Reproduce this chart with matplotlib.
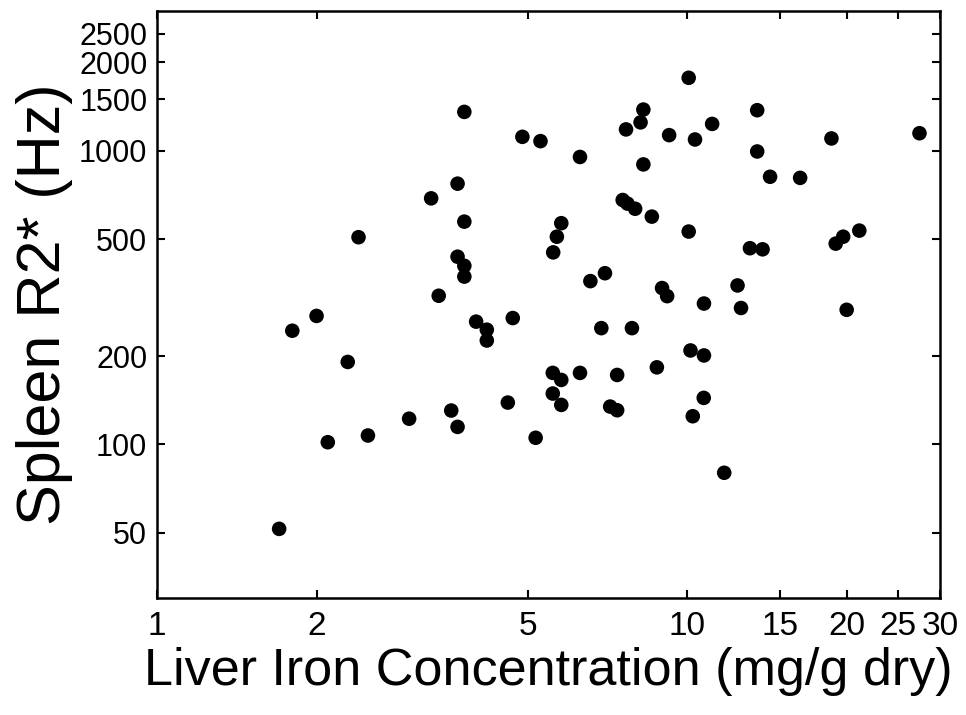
import matplotlib
matplotlib.use("Agg")
import matplotlib.pyplot as plt
from matplotlib.ticker import FixedLocator, FixedFormatter, NullLocator

plt.rcParams['font.family'] = ['Liberation Sans', 'DejaVu Sans']

# liver iron concentration (mg/g dry)
liver_iron = [
    1.70, 1.80, 2.00, 2.10, 2.29, 2.40, 2.50, 2.99, 3.29, 3.40,
    3.59, 3.69, 3.80, 3.80, 3.69, 3.80, 3.80, 3.69, 4.00, 4.19,
    4.19, 4.59, 4.69, 4.89, 5.29, 5.18, 5.59, 5.68, 5.79, 5.58,
    5.79, 5.58, 5.79, 6.28, 6.28, 6.57, 7.00, 6.89, 7.16, 7.38,
    7.38, 7.56, 7.72, 7.98, 7.67, 8.17, 8.27, 8.27, 8.58, 7.87,
    8.77, 8.97, 9.17, 9.25, 10.07, 10.07, 10.15, 10.25, 10.35, 10.76,
    10.76, 10.75, 11.15, 11.75, 12.45, 12.64, 13.14, 13.88, 13.56, 13.56,
    14.34, 16.34, 18.72, 19.07, 19.70, 21.13, 20.00, 27.44,
]

# spleen R2* (Hz)
spleen_r2 = [
    51.6, 244, 274, 101.8, 191, 508, 107.3, 122.4, 689, 321,
    130.5, 773, 1357, 574, 436, 406, 373, 114.8, 262, 246,
    226, 138.9, 269.5, 1116, 1079, 105.4, 451, 510, 567, 175.3,
    165.9, 149.1, 136.4, 953, 175.3, 360, 383, 249, 134.6, 130.8,
    172.5, 680, 661, 635, 1183, 1250, 1382, 899, 597, 249,
    183.1, 341, 320, 1131, 1773, 531, 209, 124.8, 1093, 302,
    201, 144.1, 1235, 80.1, 348, 291.6, 466, 462, 1375, 995,
    816, 809, 1102, 483, 510, 535, 287.5, 1148,
]

x_ticks = [1, 2, 5, 10, 15, 20, 25, 30]
y_ticks = [50, 100, 200, 500, 1000, 1500, 2000, 2500]

fig = plt.figure(figsize=(9.66, 7.15), dpi=100)
ax = fig.add_axes([0.1625, 0.1636, 0.8106, 0.8214])

ax.scatter(liver_iron, spleen_r2, s=110, color='black', edgecolors='none', zorder=3)

ax.set_xscale('log')
ax.set_yscale('log')
ax.set_xlim(1, 30)
ax.set_ylim(30, 3000)

ax.xaxis.set_major_locator(FixedLocator(x_ticks))
ax.xaxis.set_major_formatter(FixedFormatter([str(t) for t in x_ticks]))
ax.xaxis.set_minor_locator(NullLocator())
ax.yaxis.set_major_locator(FixedLocator(y_ticks))
ax.yaxis.set_major_formatter(FixedFormatter([str(t) for t in y_ticks]))
ax.yaxis.set_minor_locator(NullLocator())

ax.tick_params(which='major', direction='in', length=6, width=1.5,
               top=True, right=True, colors='black')
ax.tick_params(axis='y', labelsize=22, pad=7)
ax.tick_params(axis='x', labelsize=24, pad=9)

for spine in ax.spines.values():
    spine.set_linewidth(1.8)

ax.set_xlabel('Liver Iron Concentration (mg/g dry)', fontsize=37.5, labelpad=4)
ax.set_ylabel('Spleen R2* (Hz)', fontsize=44, labelpad=4)

fig.savefig('out.png', dpi=100)
